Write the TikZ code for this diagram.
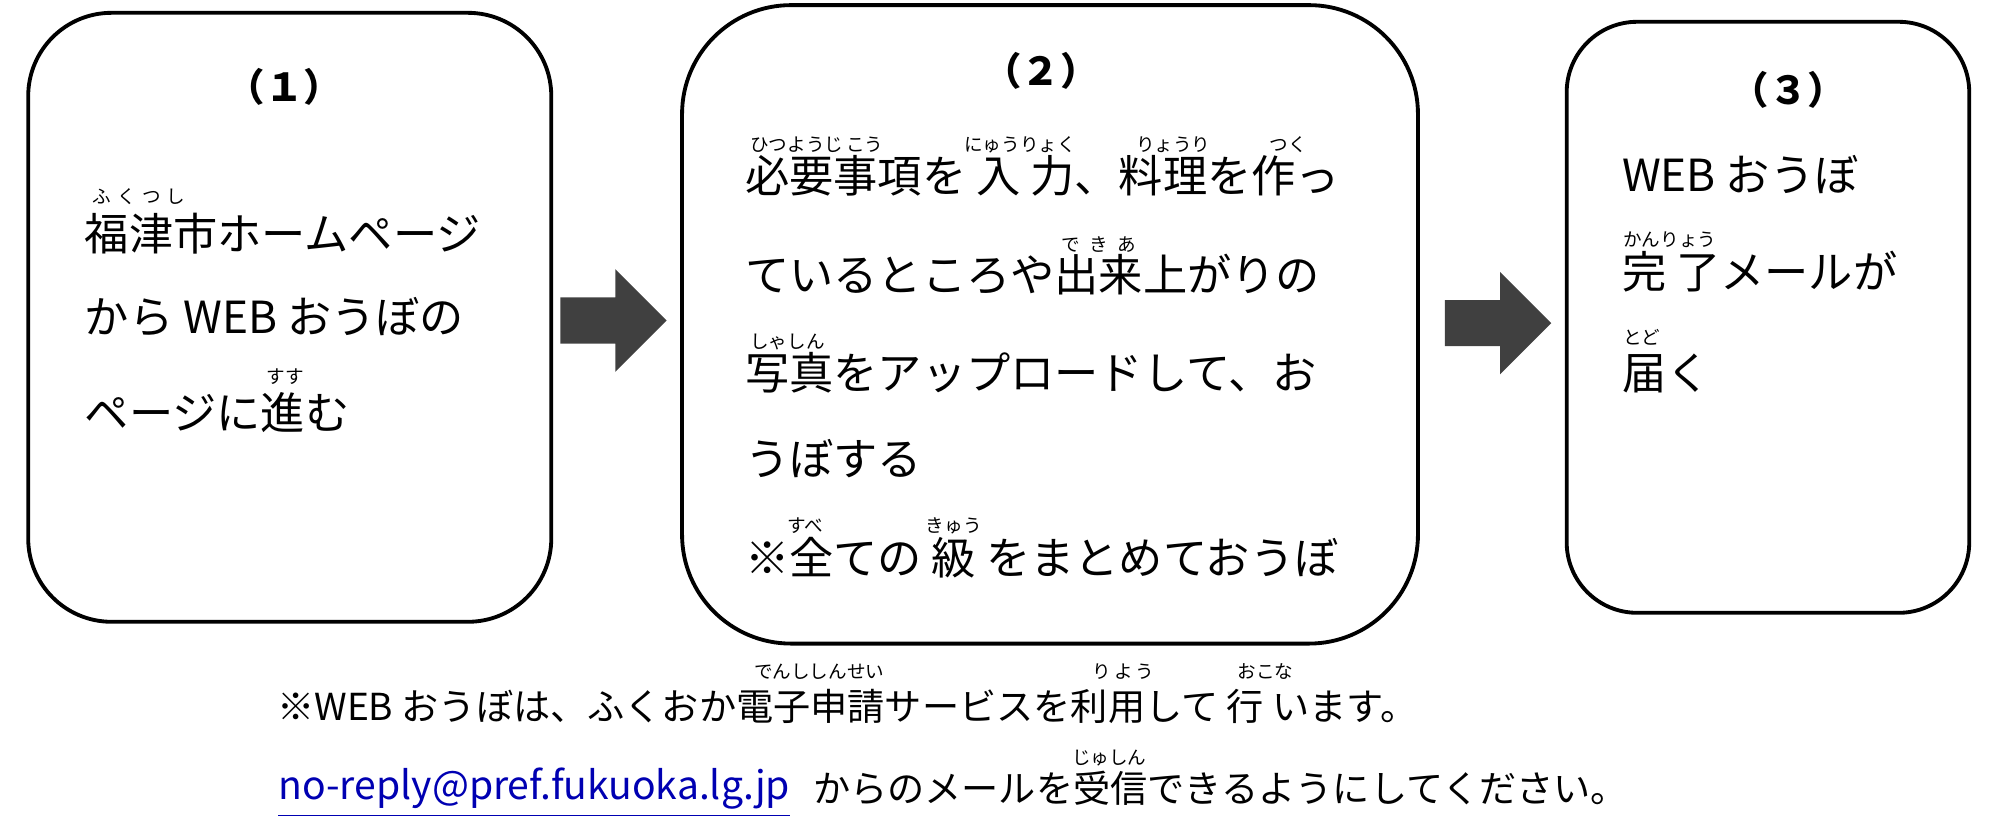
\documentclass[tikz,border=0pt]{standalone}
\usepackage{fontspec}
\setmainfont{Noto Sans CJK JP}
\begin{document}
\begin{tikzpicture}[x=1pt,y=-1pt,
  box/.style={draw=black,line width=3pt},
  txt/.style={anchor=west,inner sep=0pt,font=\fontsize{34.5}{38}\selectfont},
  btxt/.style={anchor=west,inner sep=0pt,font=\fontsize{29}{32}\selectfont},
  hd/.style={anchor=center,inner sep=0pt,font=\fontsize{30}{34}\selectfont\bfseries},
  rb/.style={anchor=west,inner sep=0pt,font=\fontsize{14.5}{16}\selectfont},
  barrow/.style={fill=black!75,draw=none}]
\useasboundingbox (0,0) rectangle (1560,655);
% boxes
\draw[box,rounded corners=65pt] (22,10) rectangle (430,485);
\draw[box,rounded corners=85pt] (532,4) rectangle (1106,502);
\draw[box,rounded corners=55pt] (1222,17) rectangle (1536,478);
% arrows
\fill[barrow] (437,232) -- (480,232) -- (480,210) -- (520,250) -- (480,290) -- (480,268) -- (437,268) -- cycle;
\fill[barrow] (1127,234) -- (1170,234) -- (1170,212) -- (1210,252) -- (1170,292) -- (1170,270) -- (1127,270) -- cycle;
% box 1
\node[hd] (h1) at (222,68) {（１）};
\node[rb] (r1) at (72,153) {ふ\,\,く\,\,つ\,\,し};
\node[txt] (a1) at (66,182) {福津市ホームページ};
\node[txt] (a2) at (66,247) {から WEB おうぼの};
\node[rb] (r2) at (208,294) {すす};
\node[txt] (a3) at (66,322) {ページに進む};
% box 2
\node[hd] (h2) at (812,55) {（２）};
\node[rb] (r3) at (585,113) {ひつようじ\,こう};
\node[rb] (r4) at (752,113) {にゅうりょく};
\node[rb] (r5) at (886,113) {りょうり};
\node[rb] (r6) at (990,113) {つく};
\node[txt] (b1) at (581,137) {必要事項を 入 力、料理を作っ};
\node[rb] (r7) at (828,191) {で\,\,\,き\,\,\,あ};
\node[txt] (b2) at (581,214) {ているところや出来上がりの};
\node[rb] (r8) at (585,267) {しゃしん};
\node[txt] (b3) at (581,291) {写真をアップロードして、お};
\node[txt] (b4) at (581,358) {うぼする};
\node[rb] (r9) at (614,410) {すべ};
\node[rb] (r10) at (722,410) {きゅう};
\node[txt] (b5) at (581,435) {※全ての 級 をまとめておうぼ};
% box 3
\node[hd] (h3) at (1395,70) {（３）};
\node[txt] (c1) at (1265,136) {WEB おうぼ};
\node[rb] (r11) at (1266,187) {かんりょう};
\node[txt] (c2) at (1265,212) {完 了メールが};
\node[rb] (r12) at (1266,263) {とど};
\node[txt] (c3) at (1265,291) {届く};
% bottom
\node[rb] (r13) at (588,524) {でんししんせい};
\node[rb] (r14) at (852,524) {り\,よ\,う};
\node[rb] (r15) at (965,524) {おこな};
\node[btxt] (d1) at (216,551) {※WEB おうぼは、ふくおか電子申請サービスを利用して 行 います。};
\node[btxt,font=\fontsize{30.5}{33}\selectfont,text=blue!70!black] (d2) at (217,615) {no-reply@pref.fukuoka.lg.jp};
\draw[blue!70!black,line width=1.2pt] (d2.south west |- 0,636) -- (d2.south east |- 0,636);
\node[rb] (r16) at (836,591) {じゅしん};
\node[btxt] (d3) at (634,615) {からのメールを受信できるようにしてください。};
\end{tikzpicture}
\end{document}
